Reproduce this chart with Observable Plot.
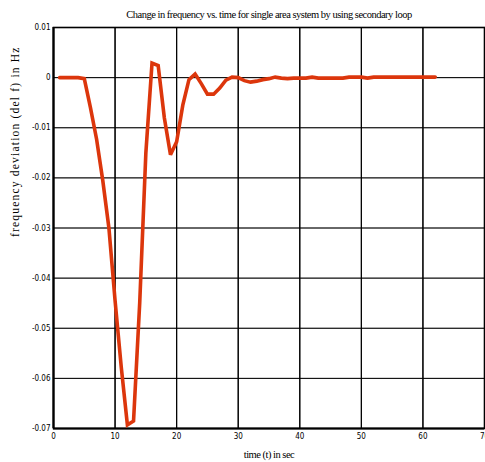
<!DOCTYPE html>
<html><head><meta charset="utf-8">
<script src="https://cdn.jsdelivr.net/npm/d3@7"></script>
<script src="https://cdn.jsdelivr.net/npm/@observablehq/plot@0.6"></script>
<style>body{margin:0;background:#fff}</style>
</head><body><div id="chart"></div>
<script>
const titleText = "Change in frequency vs. time for single area system by using secondary loop";
const xLabel = "time (t) in sec";
const yLabel = "frequency deviation (del f) in Hz";
const xTicks = [0, 10, 20, 30, 40, 50, 60, 70];
const yTicks = [0.01, 0, -0.01, -0.02, -0.03, -0.04, -0.05, -0.06, -0.07];
const yTickLabels = ["0.01", "0", "-0.01", "-0.02", "-0.03", "-0.04", "-0.05", "-0.06", "-0.07"];
const time = [1,2,3,4,5,6,7,8,9,10,11,12,13,14,15,16,17,18,19,20,21,22,23,24,25,26,27,28,29,30,31,32,33,34,35,36,37,38,39,40,41,42,43,44,45,46,47,48,49,50,51,52,53,54,55,56,57,58,59,60,61,62];
const delF = [0,0,0,0,-0.0002,-0.006,-0.0123,-0.0205,-0.030,-0.0445,-0.0577,-0.0693,-0.0685,-0.045,-0.015,0.0029,0.0024,-0.008,-0.0154,-0.0128,-0.0055,-0.0004,0.0007,-0.0012,-0.0033,-0.0033,-0.0021,-0.0005,0.0001,0,-0.0006,-0.0009,-0.0007,-0.0004,-0.0002,0.0001,-0.0001,-0.0002,-0.0001,-0.0001,-0.0001,0.0001,-0.0001,-0.0001,-0.0001,-0.0001,-0.0001,0.0001,0.0001,0.0001,-0.0001,0.0001,0.0001,0.0001,0.0001,0.0001,0.0001,0.0001,0.0001,0.0001,0.0001,0.0001];

const data = time.map((t, i) => ({t, v: delF[i]}));
const tickFont = "'DejaVu Sans Condensed', 'Liberation Sans Narrow', 'Liberation Sans', sans-serif";
const serif = "'Liberation Serif', 'DejaVu Serif', serif";

const chart = Plot.plot({
  width: 485,
  height: 462,
  marginLeft: 53,
  marginRight: 1,
  marginTop: 27,
  marginBottom: 34,
  style: {background: "#fff", color: "#000", fontFamily: tickFont, fontSize: "8px"},
  x: {domain: [0, 70], axis: null},
  y: {domain: [-0.07, 0.01], axis: null},
  marks: [
    Plot.gridX(xTicks, {stroke: "#858585", strokeOpacity: 1, strokeWidth: 0.8}),
    Plot.gridY(yTicks, {stroke: "#858585", strokeOpacity: 1, strokeWidth: 0.8}),
    Plot.axisX(xTicks, {tickSize: 0, tickPadding: 5, fontFamily: tickFont, fontSize: 8, tickFormat: d => String(d), label: null}),
    Plot.axisY(yTicks, {tickSize: 0, tickPadding: 3, fontFamily: tickFont, fontSize: 8, tickFormat: (d, i) => yTickLabels[yTicks.indexOf(d)], label: null}),
    Plot.tickX(xTicks, {x: d => d, y1: -0.07, y2: -0.0692, stroke: "#000", strokeWidth: 1}),
    Plot.tickX(xTicks, {x: d => d, y1: 0.01, y2: 0.0092, stroke: "#000", strokeWidth: 1}),
    Plot.tickY(yTicks, {y: d => d, x1: 0, x2: 0.8, stroke: "#000", strokeWidth: 1}),
    Plot.frame({stroke: "#000", strokeWidth: 1.6}),
    Plot.ruleX([0], {stroke: "#000", strokeWidth: 2.2}),
    Plot.ruleY([-0.07], {stroke: "#000", strokeWidth: 2.2}),
    Plot.line(data, {x: "t", y: "v", stroke: "#dc360c", strokeWidth: 3.6, strokeLinejoin: "miter", strokeMiterlimit: 3}),
    Plot.text([titleText], {text: d => d, frameAnchor: "top", dy: -13, lineAnchor: "middle", fontFamily: serif, fontSize: 10.5, fill: "#000"}),
    Plot.text([xLabel], {text: d => d, frameAnchor: "bottom", dy: 26, lineAnchor: "middle", fontFamily: serif, fontSize: 10.5, fill: "#000"}),
    Plot.text([yLabel], {text: d => d, frameAnchor: "left", dx: -38, dy: 9, rotate: -90, lineAnchor: "middle", fontFamily: serif, fontSize: 11.5, fill: "#000"})
  ]
});
chart.querySelectorAll("text").forEach(el => {
  const s = el.textContent;
  if (s === titleText) el.setAttribute("letter-spacing", "-0.5");
  else if (s === xLabel) el.setAttribute("letter-spacing", "-0.5");
  else if (s === yLabel) el.setAttribute("letter-spacing", "1.2");
});
document.getElementById("chart").appendChild(chart);
</script>
</body></html>
